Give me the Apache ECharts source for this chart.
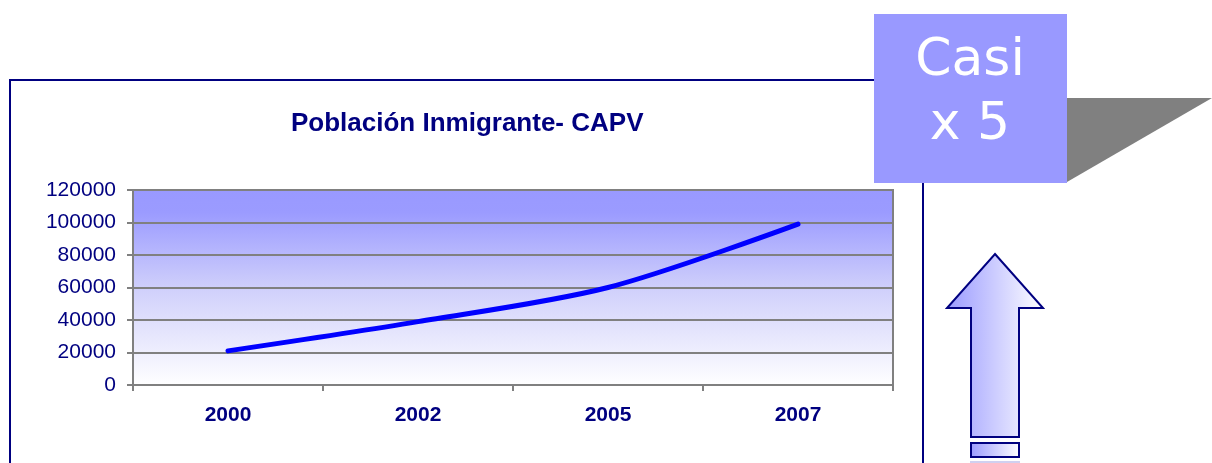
<!DOCTYPE html>
<html>
<head>
<meta charset="utf-8">
<script src="https://cdn.jsdelivr.net/npm/echarts@6/dist/echarts.min.js"></script>
<style>
  html, body { margin: 0; padding: 0; background: #fff; }
  #chart { width: 1212px; height: 463px; }
</style>
</head>
<body>
<div id="chart"></div>
<script>
// data
const years = ['2000', '2002', '2005', '2007'];
const population = [21000, 39000, 60000, 99000];
const yMin = 0, yMax = 120000, yStep = 20000;

const navy = '#000080';
const grey = '#808080';
const lavender = '#9999FF';

const chart = echarts.init(document.getElementById('chart'));

// arrow outline (decoration, right side)
const arrowPts = [[995, 254], [1043, 308], [1019, 308], [1019, 437], [971, 437], [971, 308], [947, 308]];
const arrowFill = {
  type: 'linear', x: 0, y: 0, x2: 1, y2: 0,
  colorStops: [{ offset: 0, color: '#9a9aff' }, { offset: 1, color: '#ffffff' }]
};

const option = {
  animation: false,
  title: {
    text: 'Población Inmigrante- CAPV',
    left: 286,
    top: 106,
    textStyle: { fontFamily: 'Liberation Sans, Arial', fontSize: 26, fontWeight: 'bold', color: navy }
  },
  grid: {
    left: 133, top: 190, width: 760, height: 195,
    show: true,
    borderColor: grey,
    borderWidth: 2,
    backgroundColor: {
      type: 'linear', x: 0, y: 0, x2: 0, y2: 1,
      colorStops: [
        { offset: 0, color: '#9999ff' },
        { offset: 0.12, color: '#9b9bff' },
        { offset: 0.5, color: '#cfcffb' },
        { offset: 1, color: '#ffffff' }
      ]
    }
  },
  xAxis: {
    type: 'category',
    data: years,
    boundaryGap: true,
    axisLine: { lineStyle: { color: grey, width: 2 } },
    axisTick: { show: true, length: 6, lineStyle: { color: grey, width: 2 } },
    axisLabel: {
      margin: 20,
      color: navy,
      fontFamily: 'Liberation Sans, Arial',
      fontSize: 21,
      fontWeight: 'bold'
    },
    splitLine: { show: false }
  },
  yAxis: {
    type: 'value',
    min: yMin, max: yMax, interval: yStep,
    axisLine: { show: true, lineStyle: { color: grey, width: 2 } },
    axisTick: { show: true, length: 6, lineStyle: { color: grey, width: 2 } },
    axisLabel: {
      margin: 17,
      color: navy,
      fontFamily: 'Liberation Sans, Arial',
      fontSize: 21,
      formatter: v => String(v)
    },
    splitLine: { show: true, lineStyle: { color: grey, width: 2 } }
  },
  series: [{
    type: 'line',
    data: population,
    smooth: 0.3,
    showSymbol: false,
    lineStyle: { color: '#0000ff', width: 5, cap: 'round' },
    z: 5
  }],
  graphic: [
    // outer chart frame
    { type: 'rect', z: 1, shape: { x: 10, y: 80, width: 913, height: 420 }, style: { fill: null, stroke: navy, lineWidth: 2 } },
    // grey callout tail
    { type: 'polygon', z: 10, shape: { points: [[1067, 98], [1212, 98], [1067, 182]] }, style: { fill: grey } },
    // "Casi x 5" box
    { type: 'rect', z: 11, shape: { x: 874, y: 14, width: 193, height: 169 }, style: { fill: lavender } },
    { type: 'text', z: 12, style: { text: 'Casi', x: 970, y: 61, fill: '#fff', font: '52px "DejaVu Sans"', textAlign: 'center', textVerticalAlign: 'middle' } },
    { type: 'text', z: 12, style: { text: 'x 5', x: 970, y: 125, fill: '#fff', font: '52px "DejaVu Sans"', textAlign: 'center', textVerticalAlign: 'middle' } },
    // up arrow
    { type: 'polygon', z: 10, shape: { points: arrowPts }, style: { fill: arrowFill, stroke: navy, lineWidth: 2 } },
    { type: 'rect', z: 10, shape: { x: 971, y: 443, width: 48, height: 14 }, style: { fill: arrowFill, stroke: navy, lineWidth: 2 } },
    { type: 'rect', z: 10, shape: { x: 971, y: 462, width: 48, height: 10 }, style: { fill: '#f0f0ff', stroke: '#d0d0f0', lineWidth: 2 } }
  ]
};

chart.setOption(option);
</script>
</body>
</html>
